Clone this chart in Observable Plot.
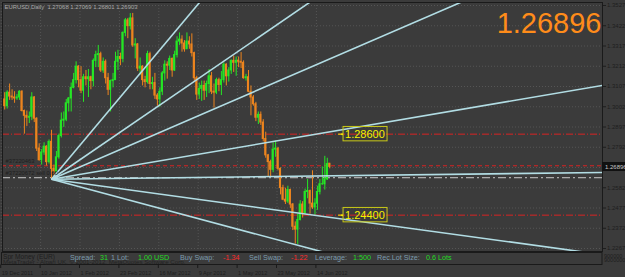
<!DOCTYPE html>
<html><head><meta charset="utf-8">
<script src="https://cdn.jsdelivr.net/npm/d3@7"></script>
<script src="https://cdn.jsdelivr.net/npm/@observablehq/plot@0.6"></script>
<style>
html,body{margin:0;padding:0;background:#3b3b3b;overflow:hidden;width:625px;height:277px}
#chart svg{display:block}
</style></head><body><div id="chart"></div>
<script>
// ---- data (EURUSD daily, 19 Dec 2011 .. 20 Jun 2012) ----
const opens=[1.3040,1.3005,1.3075,1.3055,1.3050,1.3045,1.3050,1.3080,1.2980,1.2955,
1.2945,1.2950,1.3050,1.2940,1.2785,1.2725,1.2765,1.2795,1.2715,1.2820,
1.2680,1.2665,1.2740,1.2850,1.2930,1.2935,1.3020,1.3045,1.3100,1.3140,
1.3210,1.3140,1.3085,1.3155,1.3145,1.3155,1.3135,1.3240,1.3270,1.3275,
1.3190,1.3235,1.3150,1.3090,1.3135,1.3140,1.3235,1.3260,1.3250,1.3385,
1.3450,1.3420,1.3460,1.3320,1.3325,1.3200,1.3210,1.3140,1.3130,1.3275,
1.3120,1.3125,1.3060,1.3040,1.3080,1.3175,1.3220,1.3215,1.3250,1.3190,
1.3270,1.3340,1.3350,1.3330,1.3300,1.3340,1.3325,1.3280,1.3150,1.3065,
1.3095,1.3110,1.3085,1.3120,1.3160,1.3080,1.3075,1.3140,1.3115,1.3140,
1.3220,1.3160,1.3190,1.3240,1.3230,1.3240,1.3235,1.3230,1.3150,1.3155,
1.3080,1.3050,1.3015,1.2945,1.2960,1.2920,1.2835,1.2750,1.2715,1.2675,
1.2780,1.2785,1.2680,1.2580,1.2520,1.2510,1.2570,1.2495,1.2380,1.2365,
1.2415,1.2495,1.2450,1.2560,1.2565,1.2500,1.2480,1.2500,1.2560,1.2600,
1.2600,1.2625,1.27068];
const highs=[1.3075,1.3085,1.3120,1.3090,1.3080,1.3065,1.3085,1.3085,1.2985,1.2980,
1.2975,1.3075,1.3055,1.2945,1.2810,1.2780,1.2815,1.2800,1.2830,1.2880,
1.2700,1.2770,1.2860,1.2970,1.2975,1.3040,1.3050,1.3125,1.3175,1.3235,
1.3215,1.3210,1.3170,1.3190,1.3195,1.3160,1.3250,1.3290,1.3320,1.3285,
1.3255,1.3245,1.3175,1.3140,1.3175,1.3285,1.3295,1.3280,1.3390,1.3460,
1.3460,1.3485,1.3486,1.3355,1.3330,1.3255,1.3215,1.3160,1.3290,1.3285,
1.3155,1.3175,1.3070,1.3100,1.3185,1.3240,1.3235,1.3265,1.3255,1.3290,
1.3365,1.3385,1.3370,1.3345,1.3385,1.3365,1.3380,1.3285,1.3160,1.3125,
1.3135,1.3135,1.3135,1.3195,1.3180,1.3120,1.3150,1.3150,1.3185,1.3230,
1.3225,1.3205,1.3245,1.3265,1.3260,1.3260,1.3283,1.3240,1.3170,1.3190,
1.3110,1.3060,1.3025,1.2975,1.2975,1.2935,1.2870,1.2755,1.2725,1.2815,
1.2825,1.2790,1.2685,1.2595,1.2580,1.2590,1.2575,1.2500,1.2405,1.2445,
1.2515,1.2510,1.2575,1.2625,1.2570,1.2670,1.2525,1.2590,1.2625,1.2690,
1.2745,1.2735,1.27069];
const lows=[1.2985,1.2990,1.3035,1.3035,1.3020,1.3035,1.3035,1.2975,1.2860,1.2900,
1.2915,1.2930,1.2920,1.2770,1.2720,1.2700,1.2750,1.2695,1.2705,1.2624,
1.2625,1.2655,1.2730,1.2840,1.2895,1.2925,1.2975,1.2975,1.3095,1.3120,
1.3100,1.3070,1.3025,1.3110,1.3050,1.3090,1.3105,1.3205,1.3205,1.3180,
1.3175,1.3120,1.3060,1.2975,1.3100,1.3140,1.3190,1.3215,1.3230,1.3365,
1.3355,1.3400,1.3310,1.3250,1.3185,1.3165,1.3110,1.3100,1.3120,1.3090,
1.3090,1.3040,1.3005,1.3000,1.3060,1.3135,1.3145,1.3190,1.3155,1.3185,
1.3255,1.3320,1.3285,1.3285,1.3300,1.3300,1.3260,1.3130,1.3035,1.3040,
1.3030,1.3035,1.3050,1.3070,1.3065,1.2995,1.3065,1.3080,1.3060,1.3125,
1.3110,1.3130,1.3170,1.3180,1.3160,1.3205,1.3200,1.3145,1.3135,1.3075,
1.2955,1.3005,1.2925,1.2910,1.2905,1.2820,1.2735,1.2640,1.2640,1.2660,
1.2740,1.2670,1.2545,1.2515,1.2495,1.2500,1.2475,1.2360,1.2290,1.2288,
1.2410,1.2425,1.2445,1.2525,1.2445,1.2470,1.2440,1.2465,1.2545,1.2595,
1.2570,1.2620,1.26801];
const closes=[1.3005,1.3075,1.3055,1.3050,1.3045,1.3050,1.3080,1.2980,1.2955,1.2945,
1.2950,1.3050,1.2940,1.2785,1.2725,1.2765,1.2795,1.2715,1.2820,1.2680,
1.2665,1.2740,1.2850,1.2930,1.2935,1.3020,1.3045,1.3100,1.3140,1.3210,
1.3140,1.3085,1.3155,1.3145,1.3155,1.3135,1.3240,1.3270,1.3275,1.3190,
1.3235,1.3150,1.3090,1.3135,1.3140,1.3235,1.3260,1.3250,1.3385,1.3450,
1.3420,1.3460,1.3320,1.3325,1.3200,1.3210,1.3140,1.3130,1.3275,1.3120,
1.3125,1.3060,1.3040,1.3080,1.3175,1.3220,1.3215,1.3250,1.3190,1.3270,
1.3340,1.3350,1.3330,1.3300,1.3340,1.3325,1.3280,1.3150,1.3065,1.3095,
1.3110,1.3085,1.3120,1.3160,1.3080,1.3075,1.3140,1.3115,1.3140,1.3220,
1.3160,1.3190,1.3240,1.3230,1.3240,1.3235,1.3230,1.3150,1.3155,1.3080,
1.3050,1.3015,1.2945,1.2960,1.2920,1.2835,1.2750,1.2715,1.2675,1.2780,
1.2785,1.2680,1.2580,1.2520,1.2510,1.2570,1.2495,1.2380,1.2365,1.2415,
1.2495,1.2450,1.2560,1.2565,1.2500,1.2480,1.2500,1.2560,1.2600,1.2600,
1.2625,1.2705,1.26903];
const dateLabels=["19 Dec 2011","10 Jan 2012","1 Feb 2012","23 Feb 2012","16 Mar 2012","9 Apr 2012","1 May 2012","23 May 2012","14 Jun 2012"];
const dateIndex=[0,16,32,48,64,80,96,112,128];
const priceTicks=[1.35270,1.34220,1.33170,1.32120,1.31070,1.30020,1.28970,1.27920,1.26870,1.25820,1.24770,1.23720,1.22670];
const fanOriginIndex=19, fanOriginPrice=1.2626;
const fanSlopes=[0.001525,0.000875,0.000552,0.0002175,0.0000157,-0.0001745,-0.000342];
const levelPrices=[1.28600,1.24400];
const orderTickets=["#37220463","#37220672 sell 0.60"];
const orderPrices=[1.2696,1.2634];
const currentPrice=1.26896;
const headerText="EURUSD,Daily  1.27068 1.27069 1.26801 1.26903";
const infoText=["Spread:","31","1 Lot:","1.00 USD","Buy Swap:","-1.34","Sell Swap:","-1.22","Leverage:","1:500","Rec.Lot Size:","0.6 Lots"];
const infoKind=["label","up","label","up","label","down","label","down","label","up","label","up"];
const subWindowText=["Spr Money (EUR)","MetaTrader - Alpari UK, © 2001-2012, MetaQuotes Software Corp."];
const subAxisText=["900000","9000000"];

// ---- layout / styles ----
const W=625,H=277,ML=2,MR=23,MT=2,MB=26;
const xDomain=[-0.893,242.76];
const yDomain=[1.22515,1.35426];
const pxPerPrice=(H-MB-MT)/(yDomain[1]-yDomain[0]);
const pxPerBar=(W-MR-ML)/(xDomain[1]-xDomain[0]);
const infoX=[70,100,111,138,180,223,249,291,315,353,377,426];
const infoColor={label:"#7b9cae",up:"#22dd22",down:"#ff2a2a"};
const BULL="#25e625",BEAR="#ec841e",FAN="#b2dde4",RED="#d92323",YEL="#f2f200";
const FONT="'Liberation Sans', Arial, sans-serif";

const bars=closes.map((c,i)=>({i,o:opens[i],h:highs[i],l:lows[i],c}));
const bull=bars.filter(b=>b.c>=b.o), bear=bars.filter(b=>b.c<b.o);
const fanEnd=262;
const fans=fanSlopes.map(s=>({x1:fanOriginIndex,y1:fanOriginPrice,x2:fanEnd,y2:fanOriginPrice+s*(fanEnd-fanOriginIndex)}));
const labelIndex=137.6;
const boxW=44/pxPerBar, boxH=7.2/pxPerPrice;
const orders=orderPrices.map((p,k)=>({p,t:orderTickets[k]}));
const dates=dateIndex.map((d,k)=>({d,t:dateLabels[k]}));
const axisTicks=priceTicks.filter(p=>Math.abs(p-currentPrice)>0.002);

function candleMarks(arr,color){
  return [
    Plot.ruleX(arr,{x:"i",y1:"l",y2:"h",stroke:color,strokeWidth:1}),
    Plot.rect(arr,{x1:d=>d.i-0.43,x2:d=>d.i+0.43,y1:"o",y2:"c",fill:color,insetTop:-0.5,insetBottom:-0.5})
  ];
}

const chart=Plot.plot({
  width:W,height:H,marginLeft:ML,marginRight:MR,marginTop:MT,marginBottom:MB,
  x:{domain:xDomain,axis:null},
  y:{domain:yDomain,axis:null},
  style:{background:"#3b3b3b",fontFamily:FONT,overflow:"visible"},
  marks:[
    Plot.ruleY(priceTicks,{stroke:"#555555",strokeDasharray:"1,2"}),
    Plot.ruleX(dateIndex,{x:d=>d,dx:-3.5,stroke:"#555555",strokeDasharray:"1,2"}),
    Plot.ruleY(levelPrices,{stroke:RED,strokeDasharray:"7,2,1,2"}),
    Plot.ruleY([orderPrices[0]],{stroke:RED,strokeDasharray:"4,3"}),
    Plot.ruleY([orderPrices[1]],{stroke:"#c9c9c9",strokeDasharray:"8,3,2,3"}),
    ...candleMarks(bear,BEAR),
    ...candleMarks(bull,BULL),
    Plot.link(fans,{x1:"x1",y1:"y1",x2:"x2",y2:"y2",stroke:FAN,strokeWidth:1.6,clip:true}),
    Plot.rect(levelPrices,{x1:labelIndex,x2:labelIndex+boxW,y1:p=>p-boxH,y2:p=>p+boxH,stroke:"#c9c918",fill:"none"}),
    Plot.link(levelPrices,{x1:labelIndex-2.2,x2:labelIndex-0.6,y1:p=>p,y2:p=>p,stroke:YEL,strokeWidth:1}),
    Plot.dot(levelPrices,{x:labelIndex-0.6,y:p=>p,r:1,fill:YEL}),
    Plot.text(levelPrices,{x:labelIndex,y:p=>p,text:p=>p.toFixed(5),textAnchor:"start",dx:1.5,dy:0.5,fill:YEL,fontSize:11}),
    Plot.text(orders,{y:"p",frameAnchor:"left",text:"t",textAnchor:"start",dx:3,dy:-4.5,fill:"#1e1e1e",fontSize:5.8}),
    Plot.text([headerText],{frameAnchor:"top-left",dx:2,dy:2,lineAnchor:"top",fill:"#a8a8a8",fontSize:5.9}),
    Plot.text([currentPrice],{frameAnchor:"top-right",text:d=>d.toFixed(5),dx:-1,dy:30,lineAnchor:"bottom",fill:"#ff8c1a",fontSize:29}),
    Plot.axisY(axisTicks,{anchor:"right",tickFormat:d=>d.toFixed(5),tickSize:3,tickPadding:1.5,fontSize:6,color:"#1e1e1e"}),
    Plot.frame({stroke:"#1a1a1a"}),
    Plot.text(dates,{x:"d",frameAnchor:"bottom",dx:-3,dy:23.6,lineAnchor:"bottom",text:"t",textAnchor:"start",fill:"#1e1e1e",fontSize:5.6})
  ]
});
document.getElementById("chart").appendChild(chart);

// chrome: sub-window with info strip, date ticks, current price box
const svg=d3.select(chart);
const xs=chart.scale("x"), ys=chart.scale("y");
const g=svg.append("g").attr("font-family",FONT).attr("text-anchor","start");
g.append("rect").attr("x",1.5).attr("y",252.5).attr("width",600.5).attr("height",12).attr("fill","none").attr("stroke","#1a1a1a");
g.append("text").attr("x",3).attr("y",259.3).attr("font-size",6.6).attr("fill","#1e1e1e").text(subWindowText[0]);
g.append("text").attr("x",3).attr("y",263.5).attr("font-size",6.2).attr("fill","#222222").text(subWindowText[1]);
infoText.forEach((t,k)=>g.append("text").attr("x",infoX[k]).attr("y",259.5).attr("font-size",7.2).attr("fill",infoColor[infoKind[k]]).text(t));
dateIndex.forEach(d=>{const x=xs.apply(d)-3.5;g.append("line").attr("x1",x).attr("x2",x).attr("y1",264.5).attr("y2",268).attr("stroke","#1a1a1a");});
subAxisText.forEach((t,k)=>g.append("text").attr("x",604).attr("y",257.5+k*4.5).attr("font-size",5.5).attr("fill","#1e1e1e").text(t));
const cy=ys.apply(currentPrice);
g.append("rect").attr("x",602).attr("y",cy-4.5).attr("width",23).attr("height",9).attr("fill","#111111");
g.append("text").attr("x",605).attr("y",cy+2).attr("font-size",6).attr("fill","#c8c8c8").text(currentPrice.toFixed(5));
</script></body></html>
